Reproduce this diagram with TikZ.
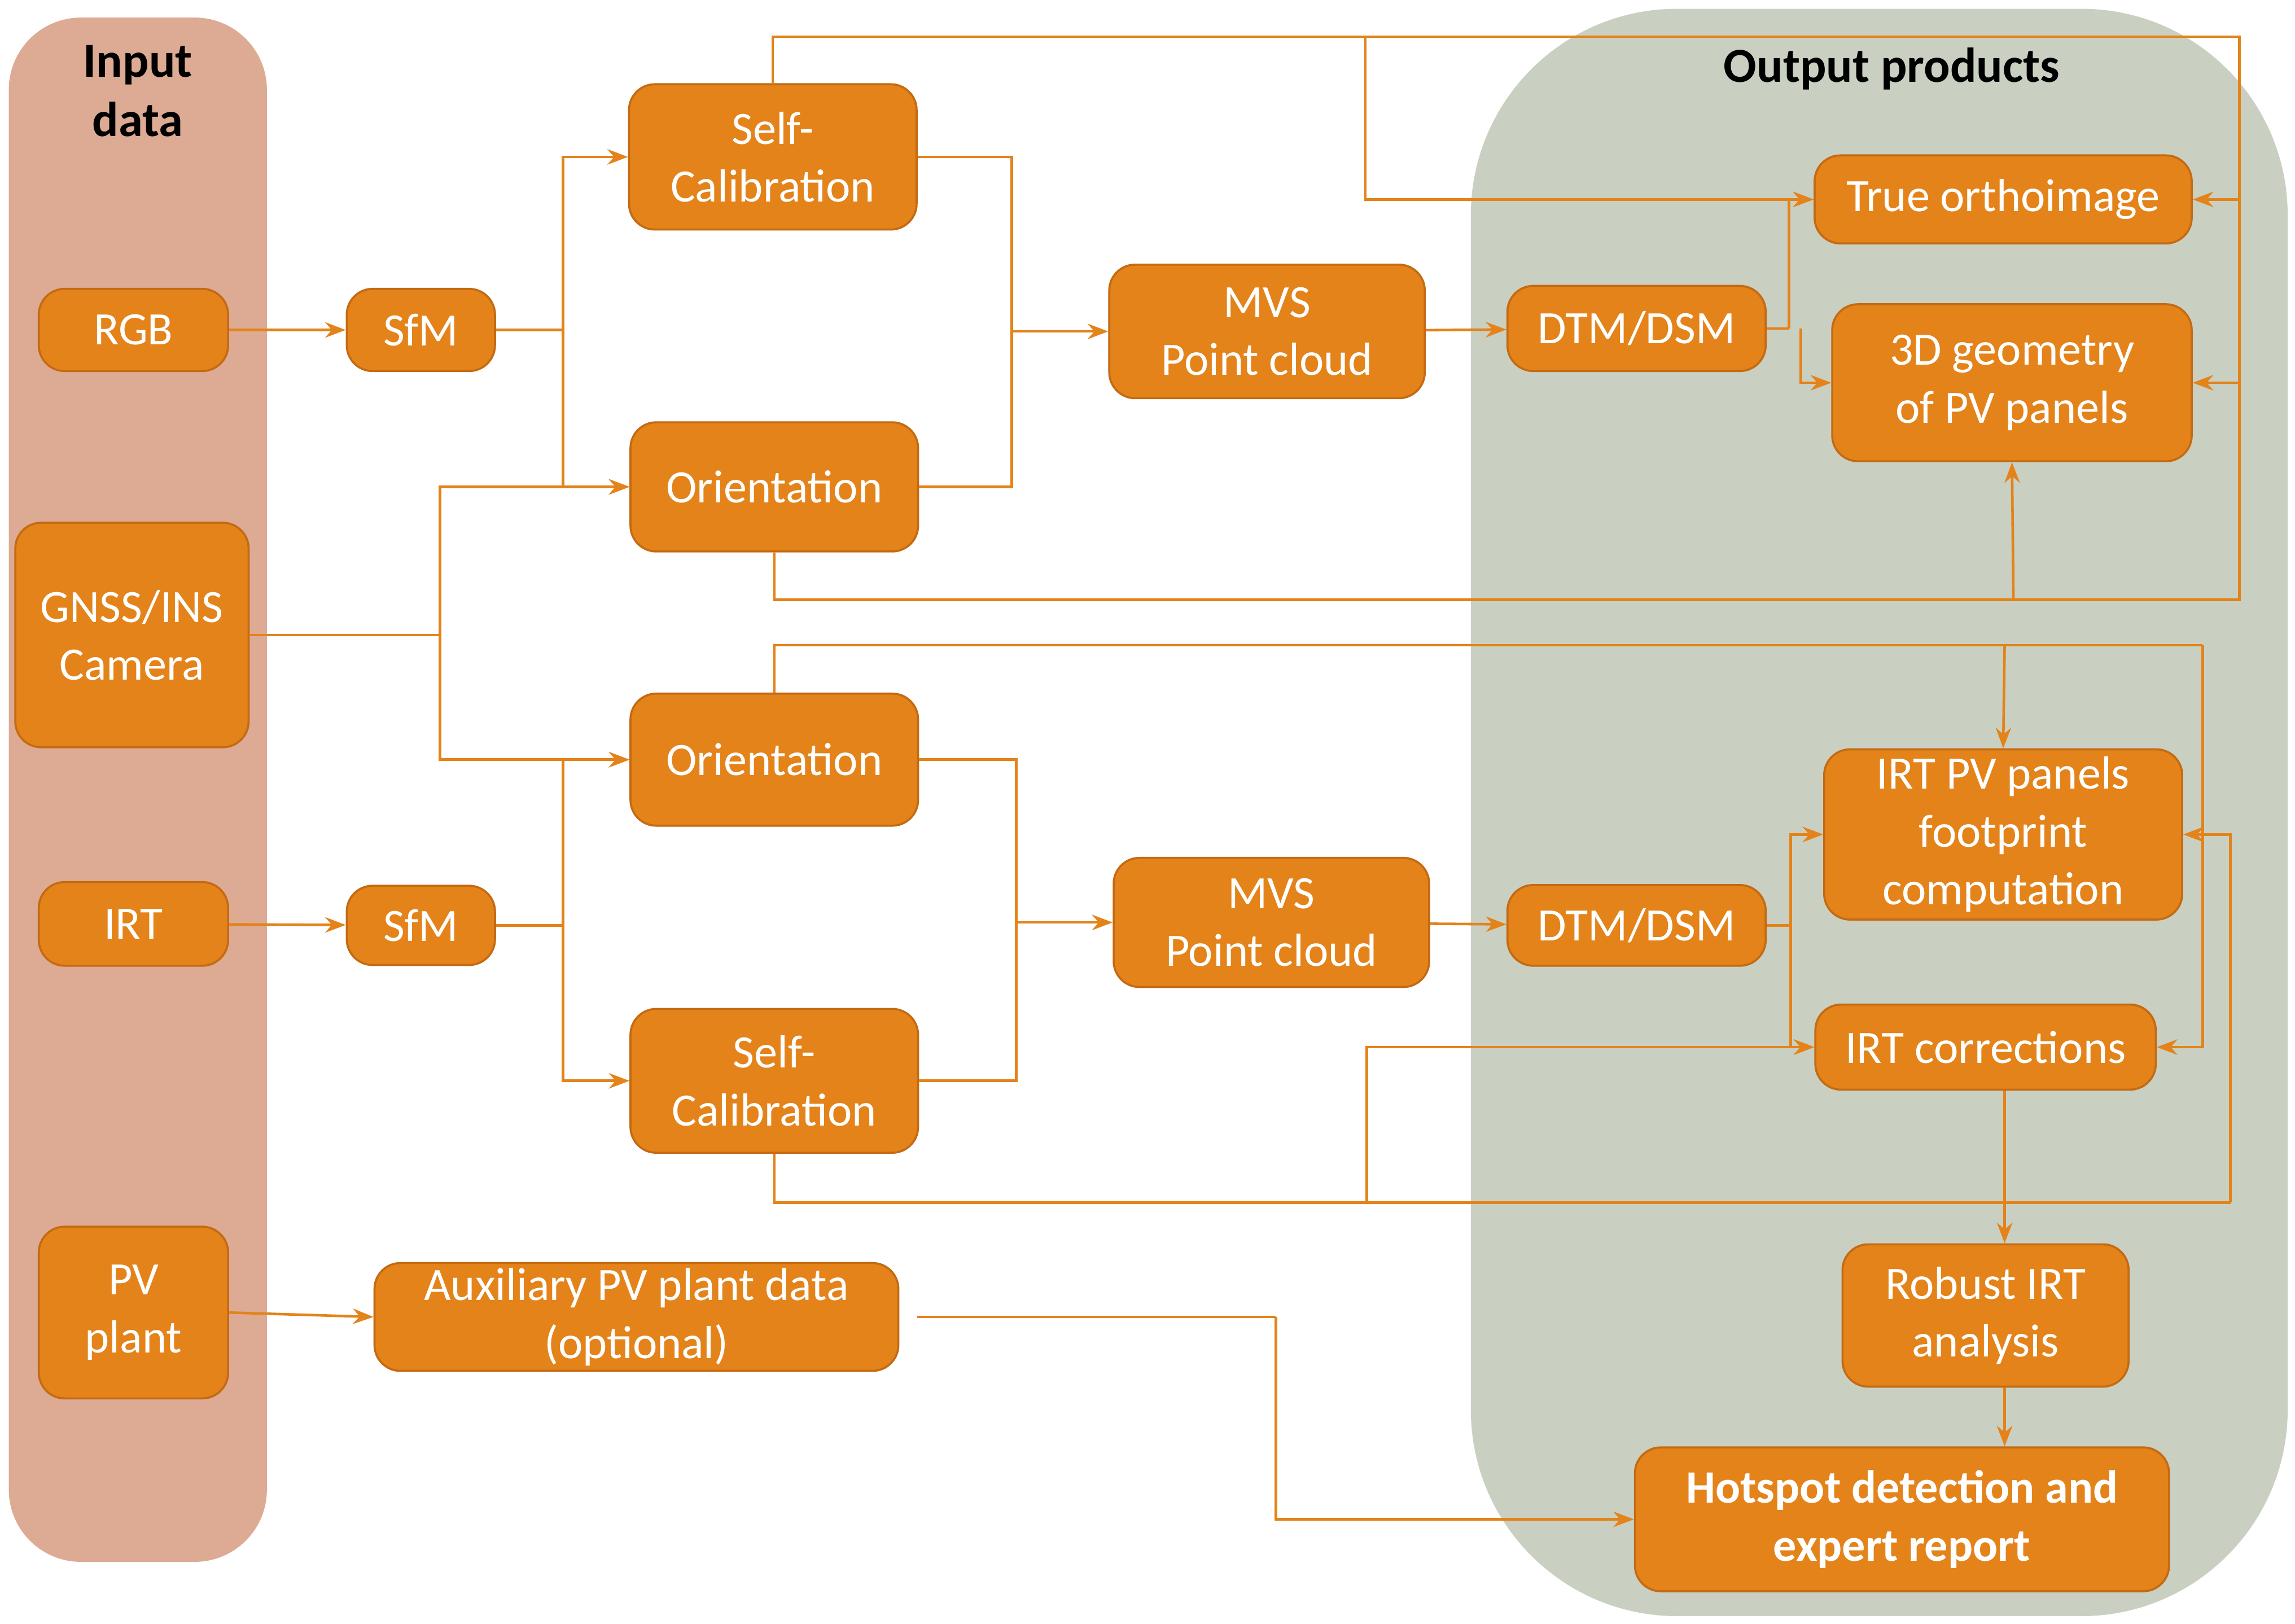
\documentclass[tikz,border=0pt]{standalone}
\usepackage{fontspec}
\setmainfont{Carlito}
\usetikzlibrary{arrows.meta}
\definecolor{pvorange}{HTML}{E3831A}
\definecolor{pvedge}{HTML}{C46A12}
\definecolor{inbg}{HTML}{DDAA94}
\definecolor{outbg}{HTML}{C9D0C2}
\tikzset{
  box/.style={draw=pvedge, fill=pvorange, rounded corners=5pt, text=white, align=center,
    font=\fontsize{9}{11.2}\selectfont, inner sep=1pt},
  link/.style={draw=pvorange, line width=0.5pt, -{Stealth[length=4pt,width=3pt]}},
  line/.style={draw=pvorange, line width=0.5pt}
}
\begin{document}
\begin{tikzpicture}[x=0.01cm,y=-0.01cm]
    \useasboundingbox (0,0) rectangle (1565,1107);
    % panels
    \fill[inbg, rounded corners=14pt] (6,12) rectangle (182,1065);
    \fill[outbg, rounded corners=40pt] (1003,6) rectangle (1560,1102);
    \node[font=\fontsize{9.5}{11.5}\selectfont\bfseries, align=center] (intitle) at (94,62) {Input\\data};
    \node[font=\fontsize{9.5}{11.5}\selectfont\bfseries] (outtitle) at (1290,47) {Output products};
    % input data
    \node[box, minimum width=1.29cm, minimum height=0.56cm] (rgb) at (91,225) {RGB};
    \node[box, minimum width=1.59cm, minimum height=1.53cm] (gnss) at (90,433) {GNSS/INS\\Camera};
    \node[box, minimum width=1.29cm, minimum height=0.57cm] (irt) at (91,630) {IRT};
    \node[box, minimum width=1.29cm, minimum height=1.17cm] (pv) at (91,895) {PV\\plant};
    % RGB chain
    \node[box, minimum width=1.01cm, minimum height=0.56cm] (sfmA) at (287,225) {SfM};
    \node[box, minimum width=1.96cm, minimum height=0.99cm] (calA) at (527,107) {Self-\\Calibration};
    \node[box, minimum width=1.96cm, minimum height=0.88cm] (oriA) at (528,332) {Orientation};
    \node[box, minimum width=2.15cm, minimum height=0.91cm] (mvsA) at (864,226) {MVS\\Point cloud};
    \node[box, minimum width=1.76cm, minimum height=0.58cm] (dtmA) at (1116,224) {DTM/DSM};
    % IRT chain
    \node[box, minimum width=1.01cm, minimum height=0.54cm] (sfmB) at (287,631) {SfM};
    \node[box, minimum width=1.96cm, minimum height=0.90cm] (oriB) at (528,518) {Orientation};
    \node[box, minimum width=1.96cm, minimum height=0.98cm] (calB) at (528,737) {Self-\\Calibration};
    \node[box, minimum width=2.15cm, minimum height=0.88cm] (mvsB) at (867,629) {MVS\\Point cloud};
    \node[box, minimum width=1.76cm, minimum height=0.55cm] (dtmB) at (1116,631) {DTM/DSM};
    \node[box, minimum width=3.57cm, minimum height=0.71cm] (aux) at (434,898) {Auxiliary PV plant data\\(optional)};
    % outputs
    \node[box, minimum width=2.57cm, minimum height=0.60cm] (ortho) at (1366,136) {True orthoimage};
    \node[box, minimum width=2.45cm, minimum height=1.07cm] (geom) at (1372,261) {3D geometry\\of PV panels};
    \node[box, minimum width=2.44cm, minimum height=1.16cm] (foot) at (1366,569) {IRT PV panels\\footprint\\computation};
    \node[box, minimum width=2.32cm, minimum height=0.58cm] (corr) at (1354,714) {IRT corrections};
    \node[box, minimum width=1.95cm, minimum height=0.97cm] (robust) at (1354,897) {Robust IRT\\analysis};
    \node[box, minimum width=3.64cm, minimum height=0.98cm, font=\fontsize{9}{11.2}\selectfont\bfseries] (hot) at (1297,1036) {Hotspot detection and\\expert report};
    % junctions
    \coordinate (jA) at (384,225);
    \coordinate (jB) at (690,226);
    \coordinate (jC) at (1220,224);
    \coordinate (jG) at (300,433);
    \coordinate (jD) at (384,631);
    \coordinate (jE) at (693,629);
    \coordinate (jF) at (1221,631);
    \coordinate (tA) at (527,25);
    \coordinate (tB) at (1527,25);
    \coordinate (tC) at (931,25);
    \coordinate (bA) at (528,409);
    \coordinate (bB) at (1527,409);
    \coordinate (bC) at (1373,409);
    \coordinate (uA) at (528,440);
    \coordinate (uB) at (1502,440);
    \coordinate (uC) at (1367,440);
    \coordinate (vA) at (528,820);
    \coordinate (vB) at (1521,820);
    \coordinate (vC) at (932,820);
    \coordinate (wA) at (870,898);
    % RGB connectors
    \draw[link] (rgb) -- (sfmA);
    \draw[line] (sfmA) -- (jA);
    \draw[link] (jA) |- (calA);
    \draw[link] (jA) |- (oriA);
    \draw[line] (calA) -| (jB);
    \draw[line] (oriA) -| (jB);
    \draw[link] (jB) -- (mvsA);
    \draw[link] (mvsA) -- (dtmA);
    \draw[line] (dtmA) -- (jC);
    \draw[link] (jC) |- (ortho.west);
    \draw[link] (jC) ++(8,0) |- (geom.west);
    \draw[line] (calA.north) -- (tA) -- (tB) -- (bB) -- (bA) -- (oriA.south);
    \draw[link] (tC) |- (ortho.west);
    \draw[link] (tB) |- (ortho.east);
    \draw[link] (tB) |- (geom.east);
    \draw[link] (bC) -- (geom.south);
    % GNSS
    \draw[line] (gnss) -- (jG);
    \draw[link] (jG) |- (oriA);
    \draw[link] (jG) |- (oriB);
    % IRT connectors
    \draw[link] (irt) -- (sfmB);
    \draw[line] (sfmB) -- (jD);
    \draw[link] (jD) |- (oriB);
    \draw[link] (jD) |- (calB);
    \draw[line] (oriB) -| (jE);
    \draw[line] (calB) -| (jE);
    \draw[link] (jE) -- (mvsB);
    \draw[link] (mvsB) -- (dtmB);
    \draw[line] (dtmB) -- (jF);
    \draw[link] (jF) |- (foot.west);
    \draw[link] (jF) |- (corr.west);
    \draw[line] (oriB.north) -- (uA) -- (uB);
    \draw[link] (uB) |- (corr.east);
    \draw[link] (uC) -- (foot.north);
    \draw[line] (calB.south) -- (vA) -- (vB);
    \draw[link] (vB) |- (foot.east);
    \draw[link] (vC) |- (corr.west);
    \draw[link] (corr.south -| uC) -- (robust.north -| uC);
    \draw[link] (robust.south -| uC) -- (hot.north -| uC);
    % PV plant
    \draw[link] (pv.east) -- (aux.west);
    \draw[line] (aux.east) ++(12,0) -- (wA);
    \draw[link] (wA) |- (hot.west);
\end{tikzpicture}
\end{document}
